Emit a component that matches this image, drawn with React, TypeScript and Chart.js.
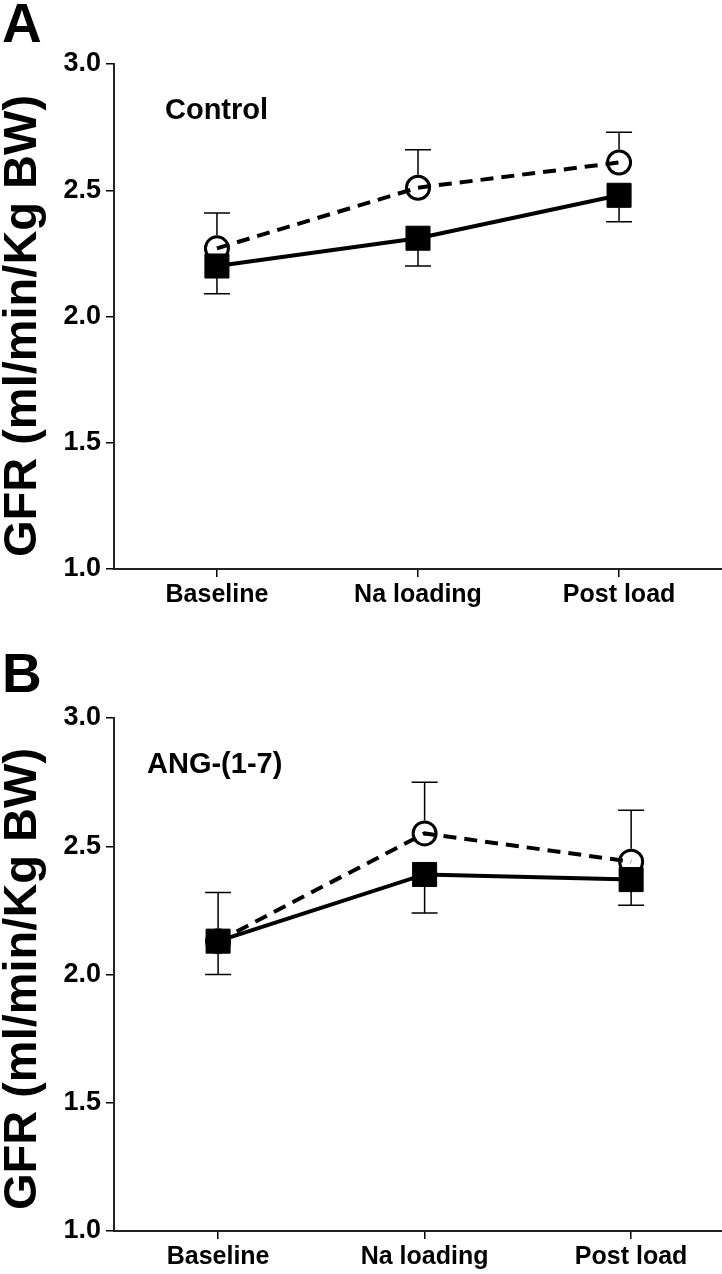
import React, { useEffect, useRef } from 'react';
import Chart from 'chart.js/auto';

// ---- data ----
const categories = ['Baseline', 'Na loading', 'Post load'];
const yTicks = [1.0, 1.5, 2.0, 2.5, 3.0];
const yTitle = 'GFR (ml/min/Kg BW)';

// Panel A: Control
const controlOpenMean = [2.27, 2.51, 2.61];
const controlOpenSem = [0.14, 0.15, 0.12];
const controlFilledMean = [2.2, 2.31, 2.48];
const controlFilledSem = [0.11, 0.11, 0.105];

// Panel B: ANG-(1-7)
const angOpenMean = [2.13, 2.55, 2.44];
const angOpenSem = [0.19, 0.2, 0.2];
const angFilledMean = [2.13, 2.39, 2.37];
const angFilledSem = [0.13, 0.15, 0.1];

const FONT = '"Liberation Sans", Arial, Helvetica, sans-serif';
const CIRCLE_R = 11.5;
const CIRCLE_BW = 3;

type Panel = {
  letter: string;
  group: string;
  openMean: number[];
  openSem: number[];
  filledMean: number[];
  filledSem: number[];
  height: number;
  padTop: number;
  xAxisHeight: number;
  xMin: number;
  xMax: number;
  letterBaseline: number;
  groupX: number;
  groupCapY: number;
  titleCenterY: number;
};

const panels: Panel[] = [
  {
    letter: 'A',
    group: 'Control',
    openMean: controlOpenMean,
    openSem: controlOpenSem,
    filledMean: controlFilledMean,
    filledSem: controlFilledSem,
    height: 637,
    padTop: 64,
    xAxisHeight: 68,
    xMin: -0.512,
    xMax: 2.512,
    letterBaseline: 42,
    groupX: 165,
    groupCapY: 109,
    titleCenterY: 326,
  },
  {
    letter: 'B',
    group: 'ANG-(1-7)',
    openMean: angOpenMean,
    openSem: angOpenSem,
    filledMean: angFilledMean,
    filledSem: angFilledSem,
    height: 637,
    padTop: 81,
    xAxisHeight: 43,
    xMin: -0.504,
    xMax: 2.44,
    letterBaseline: 55,
    groupX: 147,
    groupCapY: 126,
    titleCenterY: 342,
  },
];

const errorBarPlugin = {
  id: 'errorBars',
  beforeDatasetsDraw(chart: any) {
    const ctx = chart.ctx;
    const xs = chart.scales.x;
    const ys = chart.scales.y;
    ctx.save();
    ctx.strokeStyle = '#000';
    ctx.lineWidth = 1.5;
    chart.data.datasets.forEach((ds: any) => {
      const sem: number[] = ds.sem;
      const dir: number = ds.errDir;
      const off: number = ds.errOffset;
      ds.data.forEach((pt: any, i: number) => {
        const x = xs.getPixelForValue(pt.x);
        const y0 = ys.getPixelForValue(pt.y);
        const y1 = ys.getPixelForValue(pt.y + dir * sem[i]);
        const start = y0 + (dir > 0 ? -off : off);
        ctx.beginPath();
        ctx.moveTo(x, start);
        ctx.lineTo(x, y1);
        ctx.moveTo(x - 13, y1);
        ctx.lineTo(x + 13, y1);
        ctx.stroke();
      });
    });
    ctx.restore();
  },
};

function makeTextPlugin(p: Panel) {
  return {
    id: 'panelText',
    afterDraw(chart: any) {
      const ctx = chart.ctx;
      ctx.save();
      ctx.fillStyle = '#000';
      ctx.textAlign = 'left';
      ctx.textBaseline = 'alphabetic';
      ctx.font = `bold 55px ${FONT}`;
      ctx.fillText(p.letter, 2, p.letterBaseline);
      ctx.font = `bold 29px ${FONT}`;
      ctx.fillText(p.group, p.groupX, p.groupCapY + 0.358 * 29);
      // rotated y-axis title
      ctx.translate(21, p.titleCenterY);
      ctx.rotate(-Math.PI / 2);
      ctx.textAlign = 'center';
      ctx.textBaseline = 'middle';
      ctx.font = `bold 47px ${FONT}`;
      ctx.fillText(yTitle, 0, 2);
      ctx.restore();
    },
  };
}

function PanelChart({ p }: { p: Panel }) {
  const ref = useRef<HTMLCanvasElement | null>(null);
  useEffect(() => {
    if (!ref.current) return;
    const chart = new Chart(ref.current, {
      type: 'line',
      data: {
        datasets: [
          {
            label: 'filled',
            data: p.filledMean.map((v, i) => ({ x: i, y: v })),
            borderColor: '#000',
            borderWidth: 4,
            pointStyle: 'rect',
            pointRadius: 17,
            pointHoverRadius: 17,
            pointBackgroundColor: '#000',
            pointBorderColor: '#000',
            pointBorderWidth: 1,
            fill: false,
            tension: 0,
            sem: p.filledSem,
            errDir: -1,
            errOffset: 0,
          } as any,
          {
            label: 'open',
            data: p.openMean.map((v, i) => ({ x: i, y: v })),
            borderColor: '#000',
            borderWidth: 4,
            borderDash: [13, 8],
            pointStyle: 'circle',
            pointRadius: CIRCLE_R,
            pointHoverRadius: CIRCLE_R,
            pointBackgroundColor: 'rgba(0,0,0,0)',
            pointBorderColor: '#000',
            pointBorderWidth: CIRCLE_BW,
            fill: false,
            tension: 0,
            sem: p.openSem,
            errDir: 1,
            errOffset: CIRCLE_R + CIRCLE_BW / 2,
          } as any,
        ],
      },
      options: {
        animation: false,
        responsive: false,
        events: [],
        layout: { autoPadding: false, padding: { top: p.padTop, left: 0, right: 0, bottom: 0 } },
        plugins: {
          legend: { display: false },
          tooltip: { enabled: false },
        },
        scales: {
          x: {
            type: 'linear',
            min: p.xMin,
            max: p.xMax,
            afterBuildTicks: (axis: any) => {
              axis.ticks = categories.map((_, i) => ({ value: i }));
            },
            afterFit: (s: any) => {
              s.height = p.xAxisHeight;
              s.paddingLeft = 0;
              s.paddingRight = 0;
            },
            ticks: {
              autoSkip: false,
              maxRotation: 0,
              padding: 3,
              color: '#000',
              font: { family: FONT, size: 25, weight: 'bold' },
              callback: (v: any) => categories[v] ?? '',
            },
            grid: {
              drawOnChartArea: false,
              drawTicks: true,
              tickLength: 8,
              color: '#000',
              lineWidth: 1.5,
            },
            border: { display: true, color: '#222', width: 2 },
          },
          y: {
            type: 'linear',
            min: 1,
            max: 3,
            afterBuildTicks: (axis: any) => {
              axis.ticks = yTicks.map((v) => ({ value: v }));
            },
            afterFit: (s: any) => {
              s.width = 114;
            },
            ticks: {
              padding: 5,
              color: '#000',
              font: { family: FONT, size: 27, weight: 'bold' },
              callback: (v: any) => Number(v).toFixed(1),
            },
            grid: {
              drawOnChartArea: false,
              drawTicks: true,
              tickLength: 8,
              color: '#000',
              lineWidth: 1.5,
            },
            border: { display: true, color: '#222', width: 2 },
            title: { display: false },
          },
        },
      },
      plugins: [errorBarPlugin, makeTextPlugin(p)],
    } as any);
    return () => chart.destroy();
  }, [p]);
  return (
    <canvas
      ref={ref}
      width={722}
      height={p.height}
      style={{ display: 'block', width: 722, height: p.height }}
    />
  );
}

export default function App() {
  return (
    <div style={{ position: 'absolute', left: 0, top: 0, width: 722, height: 1274, background: '#fff' }}>
      {panels.map((p) => (
        <PanelChart key={p.letter} p={p} />
      ))}
    </div>
  );
}
